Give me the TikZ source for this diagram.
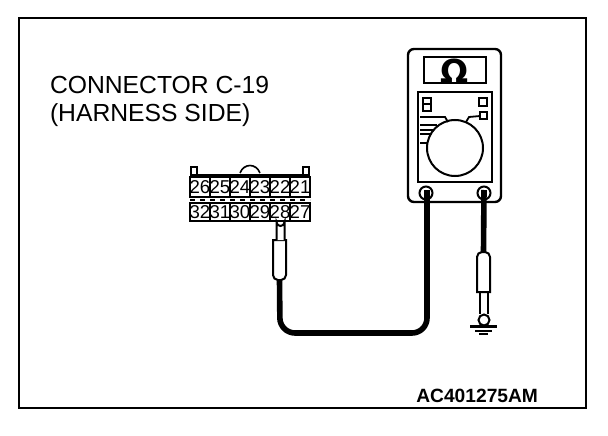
\documentclass[tikz,border=0pt]{standalone}
\usepackage{fontspec}
\setmainfont{Liberation Sans}
\newfontfamily\omfont{DejaVu Sans}
\begin{document}
\begin{tikzpicture}[x=1pt,y=-1pt,
  every node/.style={inner sep=0pt,outer sep=0pt},
  ln/.style={line width=2pt,draw=black},
  wire/.style={line width=5.6pt,draw=black},
  cell/.style={draw=black,line width=1.6pt,minimum width=20pt,font=\fontsize{18.6}{16}\selectfont},
  lbl/.style={font=\fontsize{24.7}{26}\selectfont,anchor=west},
  shell/.style={minimum width=13pt,minimum height=40pt},
  jack/.style={circle,ln,draw,fill=white,minimum size=13pt}]
\useasboundingbox (0,0) rectangle (608,436);
\draw[line width=1.4pt] (19,18) rectangle (586,408);
\node[lbl] (t1) at (50,85) {CONNECTOR C-19};
\node[lbl] (t2) at (50,115) {(HARNESS SIDE)};
\node[font=\bfseries\fontsize{19.2}{20}\selectfont,anchor=east] (id) at (538,396) {AC401275AM};
% connector
\draw[ln] (191,176) -- (191,167) -- (197,167) -- (197,176);
\draw[ln] (303,176) -- (303,167) -- (309,167) -- (309,176);
\draw[line width=1.6pt] (240,173) .. controls (244,163) and (256,163) .. (260,173);
\draw[line width=3pt] (190,175) -- (310,175);
\foreach \n/\x in {26/0,25/1,24/2,23/3,22/4,21/5}
  \node[cell,minimum height=20pt] (c\n) at (200+\x*20,187) {\makebox[0pt]{\n}};
\foreach \n/\x in {32/0,31/1,30/2,29/3,28/4,27/5}
  \node[cell,minimum height=18pt] (c\n) at (200+\x*20,212) {\makebox[0pt]{\n}};
\draw[line width=1.5pt,dash pattern=on 5pt off 5pt] (190,200) -- (310,200);
% meter
\draw[line width=2.4pt,rounded corners=6pt] (408,49) rectangle (501,202);
\draw[ln] (424,57) rectangle (486,83);
\node[font=\bfseries\fontsize{33}{33}\selectfont] (om) at (455,71) {\omfont\bfseries Ω};
\draw[ln] (418,92) rectangle (492,182);
\node[circle,ln,draw,minimum size=56pt] (dial) at (455,148) {};
\draw[line width=1.6pt] (423,98) rectangle (431,104) (423,104) rectangle (431,111);
\draw[line width=1.8pt] (479,98) rectangle (487,106);
\draw[line width=1.8pt] (480,112) rectangle (487,119);
\draw[line width=1.8pt] (420,117) -- (445,117) -- (448,122);
\draw[line width=1.8pt] (466,122) -- (469,117) -- (480,116);
\draw[line width=1.8pt] (420,125) -- (437,125);
\draw[line width=1.8pt] (420,130) -- (434,130);
\draw[line width=1.8pt] (420,134) -- (431,134);
\draw[line width=1.8pt] (420,143) -- (428,143);
% probes and wires
\node[shell] (pl) at (279.5,260) {};
\node[shell] (pr) at (483.5,272) {};
\node[jack] (j1) at (426,193) {};
\node[jack] (j2) at (484,193) {};
\coordinate (j1e) at ([yshift=3pt]j1.center);
\coordinate (j2e) at ([yshift=3pt]j2.center);
\draw[wire,rounded corners=15pt] (pl.south) -- (280,333) -- (427,333) -- (j1e-|427,0);
\draw[wire] (j2e) -- (pr.north);
\draw[ln,fill=white] (pl.north west) -- (pl.north east) {[rounded corners=5pt] -- (pl.south east) -- (pl.south west)} -- cycle;
\draw[ln,fill=white] (pr.south west) -- (pr.south east) {[rounded corners=5pt] -- (pr.north east) -- (pr.north west)} -- cycle;
\draw[ln,fill=white] (276.5,240) -- (276.5,222) arc (180:0:4) -- (284.5,240);
\draw[ln] (480,292) -- (480,314) (488,292) -- (488,314);
\node[circle,ln,draw,fill=white,minimum size=11pt] (g) at (484,320) {};
\draw[line width=3pt] (470,326.5) -- (497,326.5);
\draw[line width=2.4pt] (475,331) -- (492,331);
\draw[line width=2.4pt] (479,334) -- (488,334);
\end{tikzpicture}
\end{document}
